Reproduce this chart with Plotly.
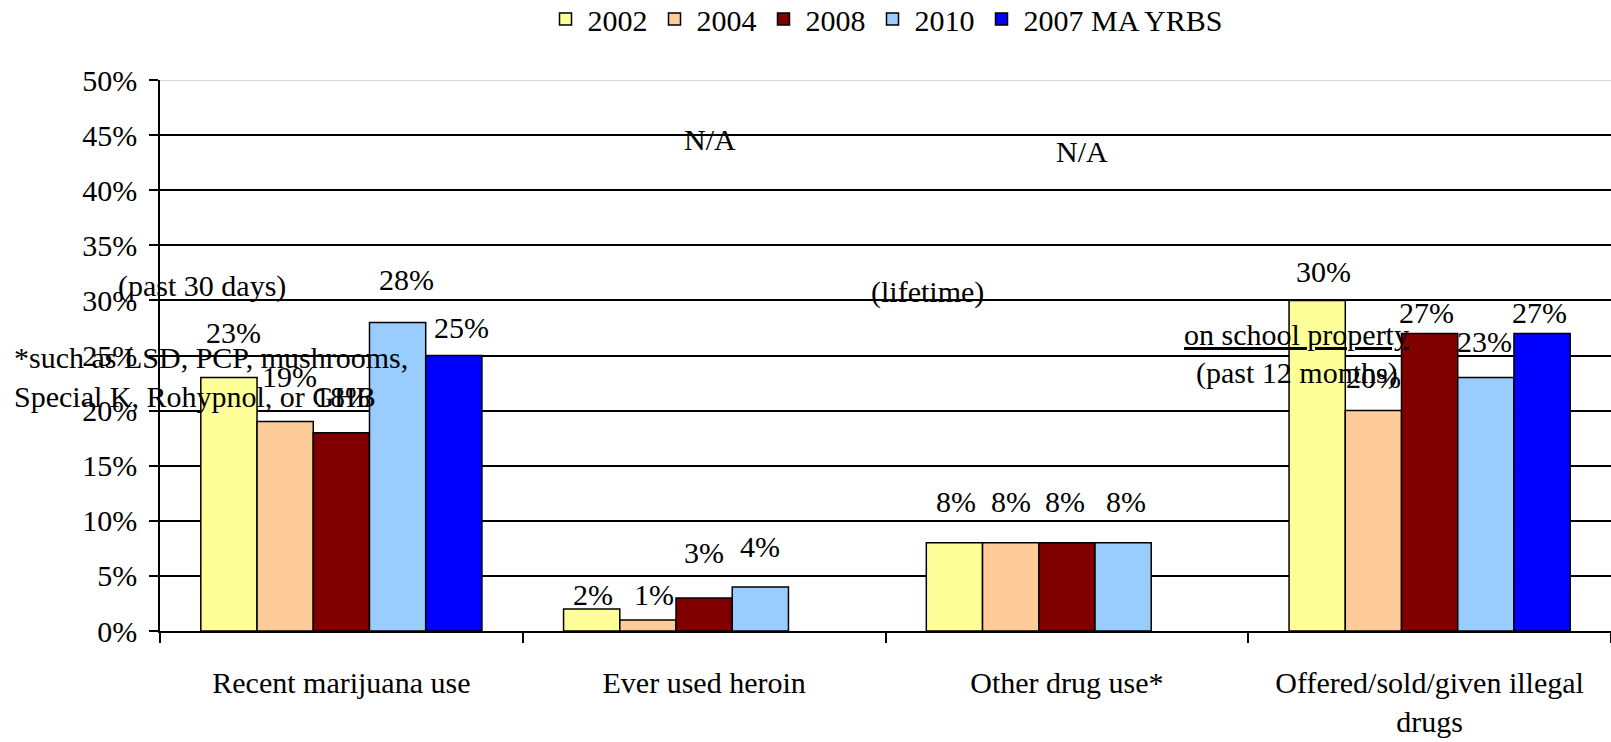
import plotly.graph_objects as go

categories = ["Recent marijuana use", "Ever used heroin", "Other drug use*",
              "Offered/sold/given illegal<br>drugs"]
series_names = ["2002", "2004", "2008", "2010", "2007 MA YRBS"]
v2002 = [23, 2, 8, 30]
v2004 = [19, 1, 8, 20]
v2008 = [18, 3, 8, 27]
v2010 = [28, 4, 8, 23]
v2007_yrbs = [25, None, None, 27]
series_values = [v2002, v2004, v2008, v2010, v2007_yrbs]
tick_vals = [0, 5, 10, 15, 20, 25, 30, 35, 40, 45, 50]
tick_text = ["0%", "5%", "10%", "15%", "20%", "25%", "30%", "35%", "40%", "45%", "50%"]

colors = ["#FFFF99", "#FFCC99", "#800000", "#99CCFF", "#0000FF"]
# label offsets (px) relative to top of each bar: [series][category]
label_dy = [[45, 14, 41, 29],
            [45, 25, 41, 33],
            [36, 45, 41, 21],
            [43, 40, 41, 36],
            [28, 0, 0, 21]]
label_dx = [[5, 1, 2, 6],
            [4, 6, 0, 0],
            [1, 0, -2, -3],
            [9, 0, 3, -1],
            [8, 0, 0, -3]]

FONT = "Liberation Serif"
FS = 30
W, H = 1611, 742
ML, MR, MT, MB = 160, 0, 80, 111
plot_w = W - ML - MR
bargap = 0.225
bar_px = plot_w / len(categories) * (1 - bargap) / len(series_names)

fig = go.Figure()
for name, vals, col in zip(series_names, series_values, colors):
    fig.add_trace(go.Bar(
        name=name, x=categories, y=vals,
        marker=dict(color=col, line=dict(color="black", width=1.5)),
    ))

annotations = []
for si, vals in enumerate(series_values):
    for ci, v in enumerate(vals):
        if v is None:
            continue
        annotations.append(dict(
            x=categories[ci], y=v, xref="x", yref="y", text=f"{v}%",
            showarrow=False, xanchor="center", yanchor="middle",
            xshift=(si - 2) * bar_px + label_dx[si][ci], yshift=label_dy[si][ci],
            font=dict(family=FONT, size=FS, color="black"),
        ))

free_text = [
    ("(past 30 days)", -0.384, 31.3, None),
    ("(lifetime)", 1.616, 30.8, None),
    ("N/A", 1.016, 44.6, None),
    ("N/A", 2.042, 43.5, None),
    ("on school property", 2.634, 26.9, "under"),
    ("(past 12 months)", 2.634, 23.45, None),
]
for txt, xx, yy, lp in free_text:
    f = dict(family=FONT, size=FS, color="black")
    if lp:
        f["lineposition"] = lp
    annotations.append(dict(x=xx, y=yy, xref="x", yref="y", text=txt,
                            showarrow=False, xanchor="center", yanchor="middle", font=f))

annotations.append(dict(
    x=(12 - ML) / plot_w, y=23.05, xref="paper", yref="y",
    text="*such as LSD, PCP, mushrooms,<br>Special K, Rohypnol, or GHB",
    showarrow=False, xanchor="left", yanchor="middle", align="left",
    font=dict(family=FONT, size=FS, color="black"),
))

shapes = [
    dict(type="line", xref="paper", yref="y", x0=0, x1=1, y0=50, y1=50,
         line=dict(color="white", width=4), layer="between"),
    dict(type="line", xref="paper", yref="y", x0=0, x1=1, y0=50, y1=50,
         line=dict(color="#C8C8C8", width=1.5), layer="between"),
    dict(type="line", xref="paper", yref="y", x0=(797 - ML) / plot_w, x1=(894 - ML) / plot_w,
         y0=5, y1=5, line=dict(color="white", width=4), layer="between"),
    dict(type="line", xref="paper", yref="y", x0=(1172 - ML) / plot_w, x1=(1268 - ML) / plot_w,
         y0=5, y1=5, line=dict(color="white", width=4), layer="between"),
]

fig.update_layout(
    template="none",
    width=W, height=H,
    margin=dict(l=ML, r=MR, t=MT, b=MB, pad=0, autoexpand=False),
    paper_bgcolor="white", plot_bgcolor="white",
    barmode="group", bargap=bargap, bargroupgap=0,
    font=dict(family=FONT, size=FS, color="black"),
    legend=dict(orientation="h", x=0.5, xanchor="center", y=(H - MB - 19) / (H - MT - MB),
                yanchor="middle", font=dict(family=FONT, size=FS, color="black"),
                bgcolor="rgba(0,0,0,0)", itemwidth=34),
    annotations=annotations,
    shapes=shapes,
    showlegend=True,
)
fig.update_xaxes(
    type="category", range=[-0.5, 3.5], autorange=False, automargin=False,
    showline=True, linecolor="black", linewidth=2,
    ticks="outside", tickson="boundaries", ticklen=10, tickcolor="black", tickwidth=1.5,
    showgrid=False, ticklabelstandoff=24,
    tickfont=dict(family=FONT, size=FS, color="black"),
)
fig.update_yaxes(
    range=[0, 50], autorange=False, automargin=False,
    tickmode="array", tickvals=tick_vals, ticktext=tick_text,
    showline=True, linecolor="black", linewidth=1.5,
    ticks="outside", ticklen=9, tickcolor="black", tickwidth=1.5,
    showgrid=True, gridcolor="black", gridwidth=1.5, zeroline=False,
    ticklabelstandoff=6,
    tickfont=dict(family=FONT, size=FS, color="black"),
)

fig.write_html("out.html", config={"displayModeBar": False},
               post_script="document.body.style.margin='0px';document.body.style.overflow='hidden';")
